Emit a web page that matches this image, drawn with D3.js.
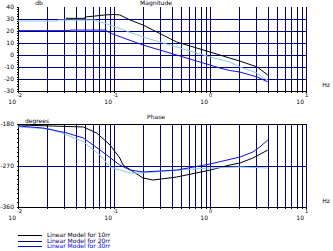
<!DOCTYPE html>
<html>
<head>
<meta charset="utf-8">
<script src="https://cdn.jsdelivr.net/npm/d3@7"></script>
<style>
body { margin: 0; background: #fff; }
svg { display: block; }
text { font-family: "DejaVu Sans", sans-serif; font-size: 6px; }
</style>
</head>
<body>
<div id="chart"></div>
<script>
// data: [freq Hz, value]
let magBlack = [[0.0316,30.2],[0.05,30.2],[0.05,31.3],[0.063,32.1],[0.081,33],[0.1,33.4],[0.115,33],[0.147,28.8],[0.2,24.7],[0.45,10.6],[1,2.3],[1.6,-2.7],[2.05,-5.2],[3.1,-10.1],[4,-16.8]];
let magLight = [[0.01,28],[0.026,28],[0.026,28.8],[0.063,28.8],[0.091,24.7],[0.2,14.7],[0.45,6.4],[1,-1.8],[1.6,-6],[2.05,-10.1],[3.1,-15.1],[3.55,-19.2],[4,-20.9]];
let magBlue = [[0.01,20],[0.035,20],[0.035,20.5],[0.081,20.5],[0.091,18],[0.2,8.1],[0.45,-0.2],[1,-8.5],[1.27,-11],[1.6,-13],[2.05,-14.3],[3.1,-18.4],[4,-22.5]];

let phBlack = [[0.01,-182],[0.048,-186.5],[0.066,-199.5],[0.091,-225.6],[0.115,-253.8],[0.124,-268.9],[0.2,-297],[0.255,-301.5],[0.45,-295],[1,-280],[1.6,-269],[2.05,-264.6],[2.8,-253.8],[4,-236.4]];
let phLight = [[0.01,-186.5],[0.0215,-190.8],[0.0324,-203.9],[0.048,-219],[0.0715,-247.2],[0.091,-273.3],[0.147,-286.3],[0.2,-286.3],[0.45,-279.8],[1,-275.4],[2.05,-273.3],[4,-275.4]];
let phBlue = [[0.01,-184.3],[0.0182,-188.7],[0.0324,-199.5],[0.048,-210.4],[0.0715,-236.4],[0.115,-269],[0.147,-279.8],[0.2,-284],[0.45,-280],[1,-266.8],[2.05,-251.6],[2.8,-240.7],[3.3,-229.9],[4,-214.7]];

let magTicks = [40,30,20,10,0,-10,-20,-30];
let phTicks = [-180,-270,-360];
let decades = [-2,-1,0,1];
let legendNames = ['Linear Model for 10rr','Linear Model for 20rr','Linear Model for 30rr'];
let legendColors = ['#000000','#000080','#0000ff'];

let navy = '#000080';
let W = 333, H = 251;

let svg = d3.select('#chart').append('svg').attr('width', W).attr('height', H);

let x = d3.scaleLog().domain([0.01, 10]).range([18, 306]);
let yMag = d3.scaleLinear().domain([-30, 40]).range([91, 6.5]);
let yPh = d3.scaleLinear().domain([-360, -180]).range([207, 124]);

// log grid: 1..9 in each decade, plus the last decade
let gridF = [];
decades.forEach(d => { for (let k = 1; k < 10; k++) gridF.push(k * Math.pow(10, d)); });
gridF.push(10);

function panel(y, yTicks, gridVals, series, opts) {
	let g = svg.append('g');
	let y0 = y.range()[0], y1 = y.range()[1];

	g.selectAll('.vg').data(gridF).enter().append('line')
		.attr('x1', d => Math.round(x(d)) + 0.5).attr('x2', d => Math.round(x(d)) + 0.5)
		.attr('y1', y1).attr('y2', y0)
		.attr('stroke', navy).attr('stroke-width', 1).attr('shape-rendering', 'crispEdges');

	g.selectAll('.hg').data(gridVals).enter().append('line')
		.attr('x1', x.range()[0]).attr('x2', x.range()[1])
		.attr('y1', d => Math.round(y(d)) + 0.5).attr('y2', d => Math.round(y(d)) + 0.5)
		.attr('stroke', d => d == opts.topDark ? '#000' : navy).attr('stroke-width', 1).attr('shape-rendering', 'crispEdges');

	// axes
	g.append('line').attr('x1', 18.5).attr('x2', 18.5).attr('y1', y1).attr('y2', y0 + 0.5)
		.attr('stroke', '#000').attr('shape-rendering', 'crispEdges');
	g.append('line').attr('x1', 18).attr('x2', 306).attr('y1', Math.round(y0) + 0.5).attr('y2', Math.round(y0) + 0.5)
		.attr('stroke', '#000').attr('shape-rendering', 'crispEdges');

	// small ticks
	let minor = d3.range(y.domain()[0], y.domain()[1] + 0.001, opts.minorStep);
	g.selectAll('.mt').data(minor).enter().append('line')
		.attr('x1', 17).attr('x2', 19)
		.attr('y1', d => Math.round(y(d)) + 0.5).attr('y2', d => Math.round(y(d)) + 0.5)
		.attr('stroke', '#000').attr('shape-rendering', 'crispEdges');
	g.selectAll('.bt').data(gridF).enter().append('line')
		.attr('x1', d => Math.round(x(d)) + 0.5).attr('x2', d => Math.round(x(d)) + 0.5)
		.attr('y1', y0).attr('y2', y0 + 2)
		.attr('stroke', '#000').attr('shape-rendering', 'crispEdges');

	g.selectAll('.yl').data(yTicks).enter().append('text')
		.attr('x', 14).attr('y', d => y(d) + 2)
		.attr('text-anchor', 'end').text(d => d);

	decades.forEach(d => {
		let px = x(Math.pow(10, d));
		g.append('text').attr('x', px - 1).attr('y', y0 + 6).style('font-size', '5px').text(d);
		g.append('text').attr('x', px - 2).attr('y', y0 + 13).attr('text-anchor', 'end').text('10');
	});
	g.append('text').attr('x', 330).attr('y', y0 - 4).attr('text-anchor', 'end').text('Hz');

	series.forEach(s => {
		g.append('path').datum(s.data)
			.attr('d', d3.line().x(d => x(d[0])).y(d => y(d[1])))
			.attr('fill', 'none').attr('stroke', s.color).attr('stroke-width', 1);
	});

	g.append('text').attr('x', 156).attr('y', y1 - opts.titleOff).attr('text-anchor', 'middle').text(opts.title);
	g.append('text').attr('x', opts.unitX).attr('y', y1 - opts.unitOff).attr('text-anchor', 'middle').text(opts.unit);
}

panel(yMag, magTicks, [30,20,10,0,-10,-20], [
	{data: magBlack, color: '#000'},
	{data: magLight, color: '#87c8ee'},
	{data: magBlue, color: '#1010e8'}
], {title: 'Magnitude', unit: 'db', unitX: 39, titleOff: 1.5, unitOff: 1.5, minorStep: 2, topDark: null});

panel(yPh, phTicks, [-180,-270], [
	{data: phBlack, color: '#000'},
	{data: phLight, color: '#87c8ee'},
	{data: phBlue, color: '#1010e8'}
], {title: 'Phase', unit: 'degrees', unitX: 37, titleOff: 5, unitOff: 1, minorStep: 10, topDark: -180});

// legend
let leg = svg.append('g');
legendNames.forEach((n, i) => {
	let ly = 235 + i * 5.5;
	leg.append('line').attr('x1', 18).attr('x2', 42).attr('y1', Math.round(ly) + 0.5).attr('y2', Math.round(ly) + 0.5)
		.attr('stroke', legendColors[i]).attr('shape-rendering', 'crispEdges');
	leg.append('text').attr('x', 47).attr('y', ly + 2).attr('fill', legendColors[i]).text(n);
});
</script>
</body>
</html>
